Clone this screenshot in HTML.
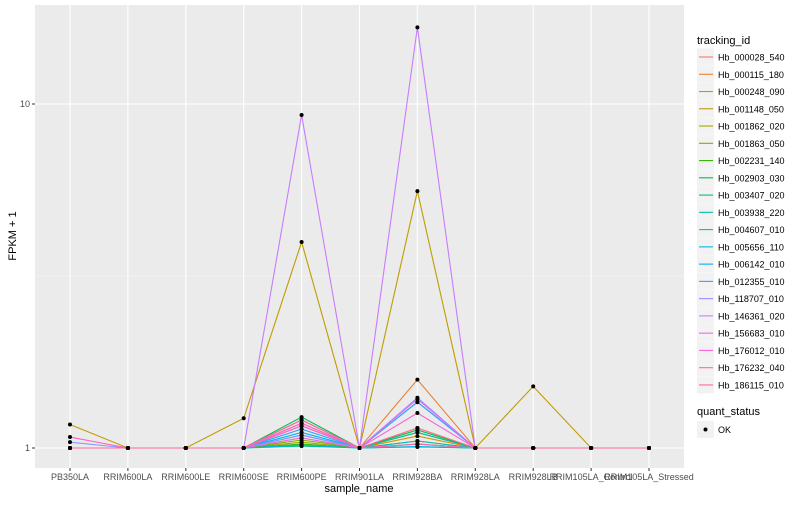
<!DOCTYPE html>
<html><head><meta charset="utf-8"><style>
body{margin:0;background:#fff;font-family:"Liberation Sans",sans-serif;}
svg text{font-family:"Liberation Sans",sans-serif;}
</style></head><body>
<svg id="chart" width="800" height="500" xmlns="http://www.w3.org/2000/svg">
<rect x="0" y="0" width="800" height="500" fill="#fff"/>
<rect x="35" y="5" width="649" height="463" fill="#ebebeb"/>
<g id="grid"></g><g id="lines"></g><g id="points"></g><g id="axes"></g><g id="legend"></g>
</svg>
<script>
const samples=["PB350LA","RRIM600LA","RRIM600LE","RRIM600SE","RRIM600PE","RRIM901LA","RRIM928BA","RRIM928LA","RRIM928LB","RRIM105LA_Control","RRIM105LA_Stressed"];
const ids=["Hb_000028_540","Hb_000115_180","Hb_000248_090","Hb_001148_050","Hb_001862_020","Hb_001863_050","Hb_002231_140","Hb_002903_030","Hb_003407_020","Hb_003938_220","Hb_004607_010","Hb_005656_110","Hb_006142_010","Hb_012355_010","Hb_118707_010","Hb_146361_020","Hb_156683_010","Hb_176012_010","Hb_176232_040","Hb_186115_010"];
const colors=["#F8766D","#EA8331","#D89000","#C09B00","#A3A500","#7CAE00","#39B600","#00BB4E","#00BF7D","#00C1A3","#00BFC4","#00BAE0","#00B0F6","#35A2FF","#9590FF","#C77CFF","#E76BF3","#FA62DB","#FF62BC","#FF6C91"];
const pb350=[1,1,1,1.17,1,1,1,1,1,1,1,1,1,1,1.04,1,1,1,1.076,1];
const rrim600se=[1,1,1,1.22,1,1,1,1,1,1,1,1,1,1,1,1,1,1,1,1];
const rrim600pe=[1.18,1.16,1.07,3.97,1.04,1.055,1.027,1.23,1.013,1.206,1.09,1.02,1.11,1.135,1.09,9.29,1.07,1.18,1.16,1.206];
const rrim928ba=[1.143,1.58,1.083,5.58,1.11,1.048,1.027,1.128,1.007,1.11,1.048,1.01,1.36,1.36,1.40,16.7,1.388,1.264,1.027,1.143];
const rrim928lb=[1,1,1,1.51,1,1,1,1,1,1,1,1,1,1,1,1,1,1,1,1];
const values=ids.map((_,i)=>[pb350[i],1,1,rrim600se[i],rrim600pe[i],1,rrim928ba[i],1,rrim928lb[i],1,1]);
const yTicks=[1,10];
const NS="http://www.w3.org/2000/svg";
const x0=70,dx=57.9;
function xs(i){return x0+i*dx;}
function ys(v){return 448-344*Math.log10(v);}
function mk(tag,attrs,parent){const e=document.createElementNS(NS,tag);for(const k in attrs)e.setAttribute(k,attrs[k]);document.getElementById(parent).appendChild(e);return e;}
// grid
[0.5,1.5].forEach(l=>{const y=ys(Math.pow(10,l));if(y>5&&y<468){const g=mk('line',{x1:35,x2:684,y1:y,y2:y,stroke:'#f5f5f5','stroke-width':0.6},'grid');}});
yTicks.forEach(t=>{const y=ys(t);const g=mk('line',{x1:35,x2:684,y1:y,y2:y,stroke:'#fff','stroke-width':1.1},'grid');
const tk=mk('line',{x1:32,x2:35,y1:y,y2:y,stroke:'#333'},'axes');
const tx=mk('text',{x:30,y:y+3,'text-anchor':'end','font-size':9,fill:'#4d4d4d'},'axes');tx.textContent=t;});
samples.forEach((s,i)=>{const x=xs(i);const g=mk('line',{x1:x,x2:x,y1:5,y2:468,stroke:'#fff','stroke-width':1.1},'grid');
const tk=mk('line',{x1:x,x2:x,y1:468,y2:471,stroke:'#333'},'axes');
const tx=mk('text',{x:x,y:480,'text-anchor':'middle','font-size':9,fill:'#4d4d4d'},'axes');tx.textContent=s;});
let t=mk('text',{x:359,y:492,'text-anchor':'middle','font-size':11,fill:'#000'},'axes');t.textContent='sample_name';


t=mk('text',{x:16,y:236,'text-anchor':'middle','font-size':11,fill:'#000',transform:'rotate(-90 16 236)'},'axes');t.textContent='FPKM + 1';


// lines
values.forEach((vals,k)=>{const p=mk('polyline',{points:vals.map((v,i)=>xs(i)+','+ys(v)).join(' '),fill:'none',stroke:colors[k],'stroke-width':1.1},'lines');


vals.forEach((v,i)=>{const c=mk('circle',{cx:xs(i),cy:ys(v),r:2,fill:'#000'},'points');

});});
// legend
t=mk('text',{x:697,y:44,'font-size':11,fill:'#000'},'legend');t.textContent='tracking_id';


ids.forEach((id,k)=>{const y=57+k*17.26;
const r=mk('rect',{x:697,y:y-8.5,width:17,height:17,fill:'#f2f2f2'},'legend');
const l=mk('line',{x1:699,x2:713,y1:y,y2:y,stroke:colors[k],'stroke-width':1.1},'legend');
const tx=mk('text',{x:718,y:y+3.5,'font-size':9,fill:'#000'},'legend');tx.textContent=id;});
t=mk('text',{x:697,y:415,'font-size':11,fill:'#000'},'legend');t.textContent='quant_status';


let r=mk('rect',{x:697,y:421,width:17,height:17,fill:'#f2f2f2'},'legend');


let c=mk('circle',{cx:705.5,cy:429.5,r:2,fill:'#000'},'legend');


t=mk('text',{x:718,y:433,'font-size':9,fill:'#000'},'legend');t.textContent='OK';


</script>
</body></html>
